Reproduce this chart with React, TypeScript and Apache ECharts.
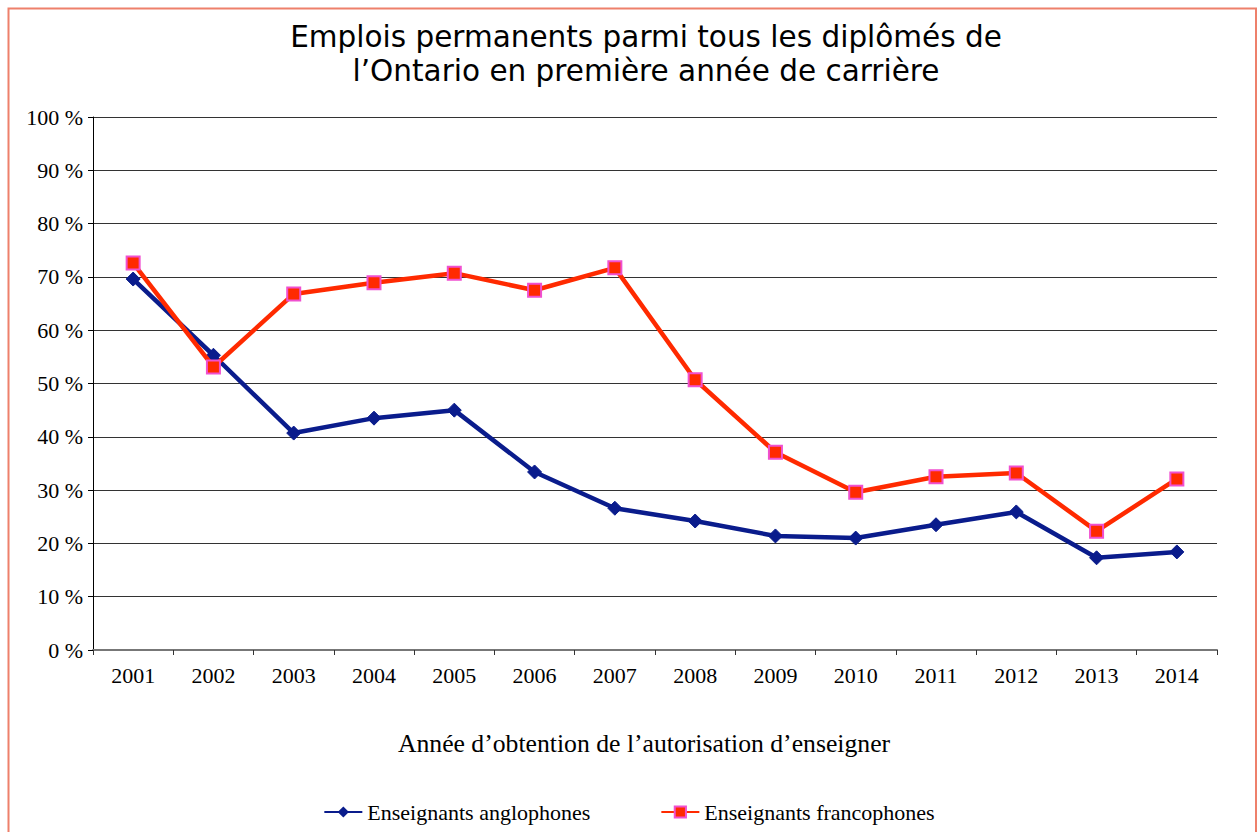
import React, { useEffect, useRef } from "react";
import * as echarts from "echarts";

const years = ["2001","2002","2003","2004","2005","2006","2007","2008","2009","2010","2011","2012","2013","2014"];
const anglophones = [69.6, 55.3, 40.7, 43.5, 45.0, 33.4, 26.6, 24.2, 21.4, 21.0, 23.5, 25.9, 17.3, 18.4];
const francophones = [72.6, 53.1, 66.8, 68.9, 70.7, 67.5, 71.7, 50.7, 37.1, 29.6, 32.5, 33.2, 22.3, 32.1];
const titleText = "Emplois permanents parmi tous les diplômés de\nl’Ontario en première année de carrière";
const xAxisTitle = "Année d’obtention de l’autorisation d’enseigner";
const serif = "'Liberation Serif', 'Times New Roman', serif";

export default function App() {
  const ref = useRef<HTMLDivElement>(null);
  useEffect(() => {
    const chart = echarts.init(ref.current!, null, { renderer: "svg" });
    chart.setOption({
      animation: false,
      backgroundColor: "#ffffff",
      graphic: [
        { type: "rect", shape: { x: 8.5, y: 8.5, width: 1247.5, height: 840 }, style: { fill: "none", stroke: "#EE806B", lineWidth: 2 }, silent: true },
        {
          type: "text", x: 646, y: 20,
          style: { text: titleText, textAlign: "center", textVerticalAlign: "top", fontFamily: "'DejaVu Sans', sans-serif", fontSize: 29.5, lineHeight: 34, fill: "#000" },
        },
        {
          type: "text", x: 644, y: 743,
          style: { text: xAxisTitle, textAlign: "center", textVerticalAlign: "middle", fontFamily: serif, fontSize: 25.7, fill: "#000" },
        },
      ],
      legend: {
        bottom: 4,
        left: "center",
        itemWidth: 38,
        itemHeight: 14,
        itemGap: 70,
        textStyle: { fontFamily: serif, fontSize: 22, color: "#000" },
        data: ["Enseignants anglophones", "Enseignants francophones"],
      },
      grid: { left: 93, right: 41, top: 117, bottom: 182, containLabel: false },
      xAxis: {
        type: "category",
        data: years,
        boundaryGap: true,
        axisLine: { lineStyle: { color: "#777", width: 2 } },
        axisTick: { show: true, length: 5, lineStyle: { color: "#333" } },
        axisLabel: { fontFamily: serif, fontSize: 22, color: "#000", margin: 14 },
        splitLine: { show: false },
      },
      yAxis: {
        type: "value",
        min: 0,
        max: 100,
        interval: 10,
        axisLine: { show: true, lineStyle: { color: "#000", width: 1 } },
        axisTick: { show: true, length: 5, lineStyle: { color: "#000" } },
        axisLabel: { fontFamily: serif, fontSize: 22, color: "#000", formatter: "{value} %", margin: 10 },
        splitLine: { show: true, lineStyle: { color: "#333", width: 1 } },
      },
      series: [
        {
          name: "Enseignants anglophones",
          type: "line",
          data: anglophones,
          symbol: "diamond",
          symbolSize: 14,
          lineStyle: { color: "#0A1C8C", width: 4.5 },
          itemStyle: { color: "#0A1C8C", borderColor: "#0A1C8C" },
          z: 2,
        },
        {
          name: "Enseignants francophones",
          type: "line",
          data: francophones,
          symbol: "rect",
          symbolSize: 13,
          lineStyle: { color: "#FF2A00", width: 4.5 },
          itemStyle: { color: "#FF2A00", borderColor: "#F050D0", borderWidth: 2 },
          z: 3,
        },
      ],
    });
    return () => chart.dispose();
  }, []);
  return <div ref={ref} style={{ position: "absolute", left: 0, top: 0, width: 1258, height: 832 }} />;
}
